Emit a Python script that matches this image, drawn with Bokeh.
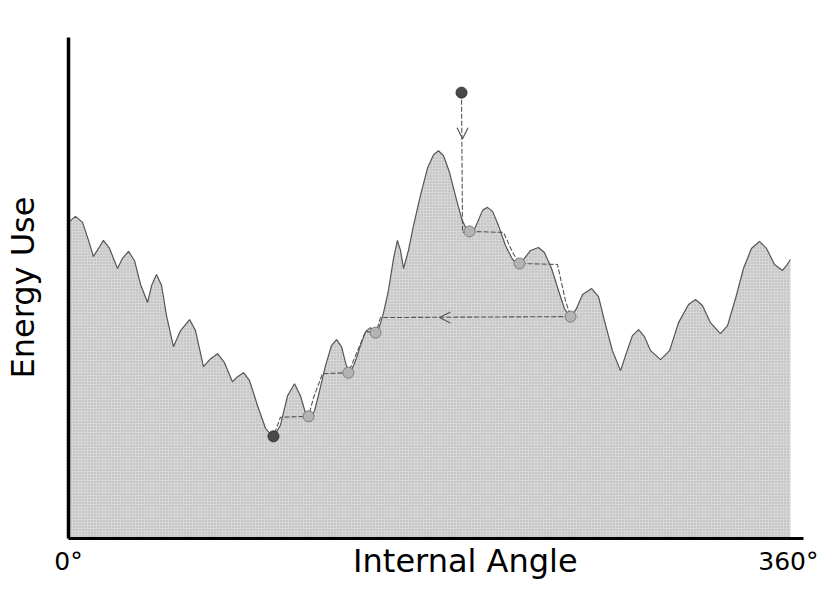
from bokeh.plotting import figure
from bokeh.models import Range1d, Arrow, OpenHead
from bokeh.core.properties import value
from bokeh.embed import file_html
from bokeh.resources import INLINE
import math

# Energy landscape (angle in degrees, energy in arbitrary units 0-100)
angle = [
    0, 3.4, 6.9, 9.8, 12.2, 14.7, 17.1, 20.1, 24.0, 26.4,
    29.4, 32.3, 35.3, 38.7, 40.7, 43.1, 45.6, 48.0, 51.4, 54.9,
    59.3, 62.2, 66.1, 69.6, 73.0, 76.4, 80.3, 82.8, 85.7, 88.7,
    92.6, 96.5, 100.4, 103.8, 107.3, 110.7, 113.6, 116.1, 118.0, 120.5,
    122.4, 125.9, 128.8, 131.3, 133.7, 135.7, 137.6, 140.6, 143.0, 145.5,
    147.9, 150.4, 152.3, 154.3, 156.7, 159.2, 161.1, 162.6, 164.1, 166.5,
    169.0, 172.4, 175.8, 178.8, 181.2, 183.7, 186.6, 189.6, 192.5, 195.4,
    197.9, 200.3, 202.8, 205.2, 207.7, 210.6, 214.0, 217.5, 220.4, 223.3,
    226.3, 230.2, 233.1, 236.6, 240.0, 242.9, 245.9, 248.8, 251.8, 256.2,
    259.6, 262.5, 266.4, 270.4, 273.3, 276.2, 279.2, 282.1, 285.1, 290.0,
    294.4, 298.8, 303.7, 307.1, 310.5, 314.4, 319.3, 322.8, 326.7, 330.6,
    334.5, 338.4, 341.9, 345.8, 349.7, 351.7, 353.6,
]
energy = [
    63.1, 64.3, 63.1, 59.5, 56.3, 57.9, 59.5, 57.9, 53.9, 55.9,
    57.3, 55.5, 50.7, 47.1, 50.5, 52.7, 50.5, 44.5, 38.3, 41.5,
    43.7, 41.5, 34.3, 35.9, 36.9, 35.1, 31.3, 32.3, 33.1, 31.5,
    26.5, 22.0, 20.2, 22.6, 28.5, 30.9, 28.5, 25.0, 23.8, 25.5,
    28.5, 34.5, 38.5, 39.7, 38.3, 35.1, 32.7, 35.5, 38.5, 41.3,
    42.1, 40.9, 42.3, 45.1, 49.5, 55.9, 59.5, 57.5, 53.9, 57.5,
    62.5, 68.5, 73.9, 76.6, 77.4, 76.4, 73.1, 68.3, 63.9, 61.3,
    60.9, 63.1, 65.5, 66.1, 65.3, 62.5, 58.5, 55.7, 54.7, 55.9,
    57.5, 58.1, 57.1, 53.9, 49.5, 45.9, 44.1, 45.9, 48.7, 49.9,
    48.3, 43.5, 37.5, 33.5, 37.1, 40.5, 41.7, 40.3, 37.5, 35.7,
    37.5, 43.1, 46.7, 47.7, 46.5, 43.1, 40.9, 42.5, 47.9, 53.9,
    57.9, 59.3, 57.9, 54.7, 53.5, 54.5, 55.7,
]

# Search trajectory
path_angle = [192.5, 193.0, 196.4, 213.1, 217.5, 220.9, 239.5, 243.4, 245.9,
              152.8, 150.9, 150.4, 145.5, 137.1, 124.4, 120.0, 117.6, 103.8, 100.4]
path_energy = [89.0, 61.1, 61.3, 61.1, 57.1, 54.9, 54.7, 47.5, 44.3,
               44.1, 41.5, 41.1, 41.3, 33.1, 32.9, 28.1, 24.4, 24.2, 20.4]

stop_angle = [196.4, 220.9, 245.9, 150.4, 137.1, 117.6]
stop_energy = [61.3, 54.9, 44.3, 41.1, 33.1, 24.4]
start_angle = [192.5]
start_energy = [89.0]
end_angle = [100.4]
end_energy = [20.4]

x_ticks = [0, 360]
tick_labels = ["0°", "360°"]
x_title = "Internal Angle"
y_title = "Energy Use"
axis_top = 100.0

FONT = "DejaVu Sans"

# frame covers the whole canvas; 0°..360° spans px 68..803, energy 0..100 spans px 538..37
p = figure(width=819, height=580,
           x_range=Range1d(-33.31, 367.84), y_range=Range1d(-8.38, 107.39),
           output_backend="svg", toolbar_location=None,
           x_axis_location=None, y_axis_location=None, min_border=0)
p.outline_line_color = None
p.grid.visible = False
p.background_fill_color = "white"
p.border_fill_color = "white"

p.varea(x=angle, y1=0, y2=energy, fill_color="#d6d6d6",
        hatch_pattern=".", hatch_color="#8a8a8a", hatch_scale=3, hatch_weight=1, hatch_alpha=0.55)
p.line(angle, energy, line_color="#555555", line_width=1.2)

p.line(path_angle, path_energy, line_color="#555555", line_width=1.1, line_dash="5 2")

p.scatter(stop_angle, stop_energy, size=11, fill_color="#b4b4b4", line_color="#7a7a7a", line_width=1)
p.scatter(start_angle, start_energy, size=11, fill_color="#4a4a4a", line_color="#333333", line_width=1)
p.scatter(end_angle, end_energy, size=11, fill_color="#4a4a4a", line_color="#333333", line_width=1)

p.add_layout(Arrow(end=OpenHead(size=11, line_color="#555555", line_width=1.2),
                   x_start=193.0, y_start=83.0, x_end=193.0, y_end=79.8, line_alpha=0))
p.add_layout(Arrow(end=OpenHead(size=11, line_color="#555555", line_width=1.2),
                   x_start=185.0, y_start=44.1, x_end=181.7, y_end=44.1, line_alpha=0))

# axis lines
p.line([0, 0], [0, axis_top], line_color="black", line_width=3.5)
p.line([0, x_ticks[1]], [0, 0], line_color="black", line_width=2.8)

# tick labels
p.text(x=[x_ticks[0]], y=[-4.6], text=[tick_labels[0]], text_align="center",
       text_baseline="middle", text_font=value(FONT), text_font_size="25px",
       text_color="black")
p.text(x=[x_ticks[1]], y=[-4.6], text=[tick_labels[1]], text_align="right",
       text_baseline="middle", x_offset=15, text_font=value(FONT),
       text_font_size="25px", text_color="black")

# axis titles
p.text(x=[194.4], y=[-4.4], text=[x_title], text_align="center", text_baseline="middle",
       text_font=value(FONT), text_font_size="32px", text_color="black")
p.text(x=[-22.4], y=[50.1], text=[y_title], angle=math.pi / 2, text_align="center",
       text_baseline="middle", text_font=value(FONT), text_font_size="32px",
       text_color="black")

open("out.html", "w").write(file_html(p, INLINE))
